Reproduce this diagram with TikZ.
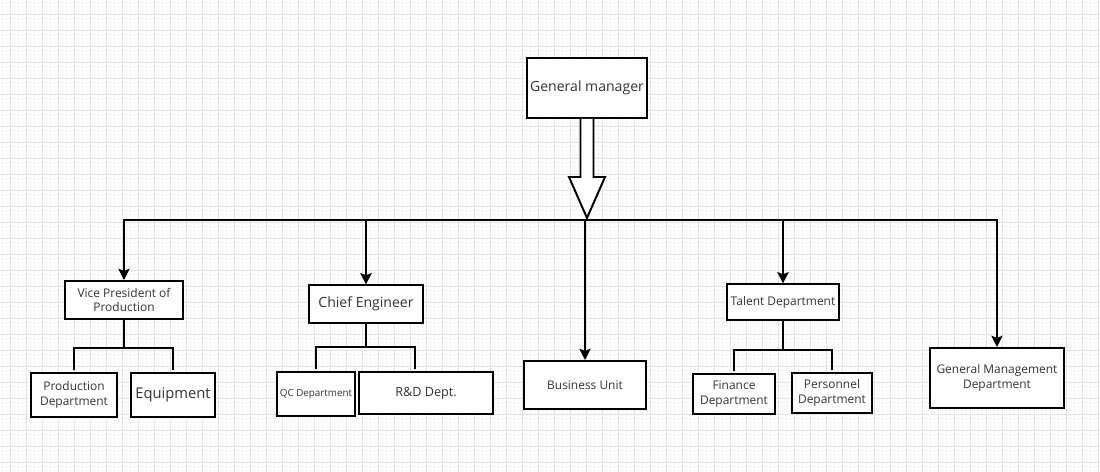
\documentclass[tikz,border=0pt]{standalone}
\usepackage{fontspec}
\setmainfont{Open Sans}
\usepackage{tikz}
\usetikzlibrary{arrows.meta, positioning, calc}
\tikzset{
  unit/.style={draw, line width=1.4pt, fill=white, align=center, inner sep=1pt, text=black!80},
  link/.style={-{Stealth[length=8pt, width=8pt, inset=1.5pt]}, line width=1.4pt},
  tie/.style={line width=1.4pt},
  hollow/.style={line width=1.4pt, fill=white, line join=miter},
  gridline/.style={gray!22, line width=0.4pt},
  finegrid/.style={gray!7, line width=0.3pt}
}
\newcommand{\fs}[1]{\fontsize{#1}{#1}\selectfont}

\begin{document}
\begin{tikzpicture}[x=0.025cm, y=-0.025cm]
        \useasboundingbox (0,0) rectangle (1100,472);
        % Grid paper
        \fill[white] (0,0) rectangle (1100,472);
        \foreach \gx in {2,6,...,1098} \draw[finegrid] (\gx,0) -- (\gx,472);
        \foreach \gy in {2,6,...,470} \draw[finegrid] (0,\gy) -- (1100,\gy);
        \foreach \gx in {10,26,...,1098} \draw[gridline] (\gx,0) -- (\gx,472);
        \foreach \gy in {14,30,...,470} \draw[gridline] (0,\gy) -- (1100,\gy);

        % Top
        \node[unit, minimum width=3.0cm, minimum height=1.5cm, font=\fs{10}] (gm) at (587,88) {General manager};
        \coordinate (bus) at (587,220);

        % Second level
        \node[unit, minimum width=2.95cm, minimum height=0.95cm, font=\fs{8.5}] (vp)   at (124,300) {Vice President of\\[2pt]Production};
        \node[unit, minimum width=2.85cm, minimum height=0.93cm, font=\fs{10}]  (ce)   at (366,304) {Chief Engineer};
        \node[unit, minimum width=3.03cm, minimum height=1.2cm,  font=\fs{8.5}] (bu)   at (585,385) {Business Unit};
        \node[unit, minimum width=2.8cm,  minimum height=0.88cm, font=\fs{8.5}] (td)   at (783,302) {Talent Department};
        \node[unit, minimum width=3.33cm, minimum height=1.5cm,  font=\fs{8.5}] (gmd)  at (997,378) {General Management\\[2pt]Department};

        % Third level
        \node[unit, minimum width=2.15cm, minimum height=1.08cm, font=\fs{8.5}] (prod) at (74,395)  {Production\\[2pt]Department};
        \node[unit, minimum width=2.08cm, minimum height=1.1cm,  font=\fs{10.5}] (equip) at (173,395) {Equipment};
        \node[unit, minimum width=1.95cm, minimum height=1.08cm, font=\fs{7}]   (qc)   at (316,394) {QC Department};
        \node[unit, minimum width=3.33cm, minimum height=1.03cm, font=\fs{9}]   (rd)   at (426,393) {R\&D Dept.};
        \node[unit, minimum width=2.05cm, minimum height=0.98cm, font=\fs{8.5}] (fin)  at (734,394) {Finance\\[2pt]Department};
        \node[unit, minimum width=1.98cm, minimum height=0.98cm, font=\fs{8.5}] (pers) at (832,393) {Personnel\\[2pt]Department};

        % Hollow arrow from the manager
        \draw[hollow] (gm.south) ++(-6.5,0) -- ++(0,58) -- ++(-11.5,0) -- ++(18,41) -- ++(18,-41) -- ++(-11.5,0) -- ++(0,-58);

        % Bus and drops
        \draw[link] (bus) -| (vp.north);
        \draw[link] (bus) -| (gmd.north);
        \draw[link] (bus -| ce.north) -- (ce.north);
        \draw[link] (bus -| bu.north) -- (bu.north);
        \draw[link] (bus -| td.north) -- (td.north);

        % Sub-branches
        \draw[tie] (vp.south) -- ++(0,28) coordinate (vpj);
        \draw[tie] ($(prod.north)+(0,-2)$) |- (vpj) -| ($(equip.north)+(0,-2)$);
        \draw[tie] (ce.south) -- ++(0,23) coordinate (cej);
        \draw[tie] ($(qc.north)+(0,-2)$) |- (cej) -| ($(rd.north)+(-11,-2)$);
        \draw[tie] (td.south) -- ++(0,29) coordinate (tdj);
        \draw[tie] ($(fin.north)+(0,-2)$) |- (tdj) -| ($(pers.north)+(0,-2)$);
\end{tikzpicture}
\end{document}
